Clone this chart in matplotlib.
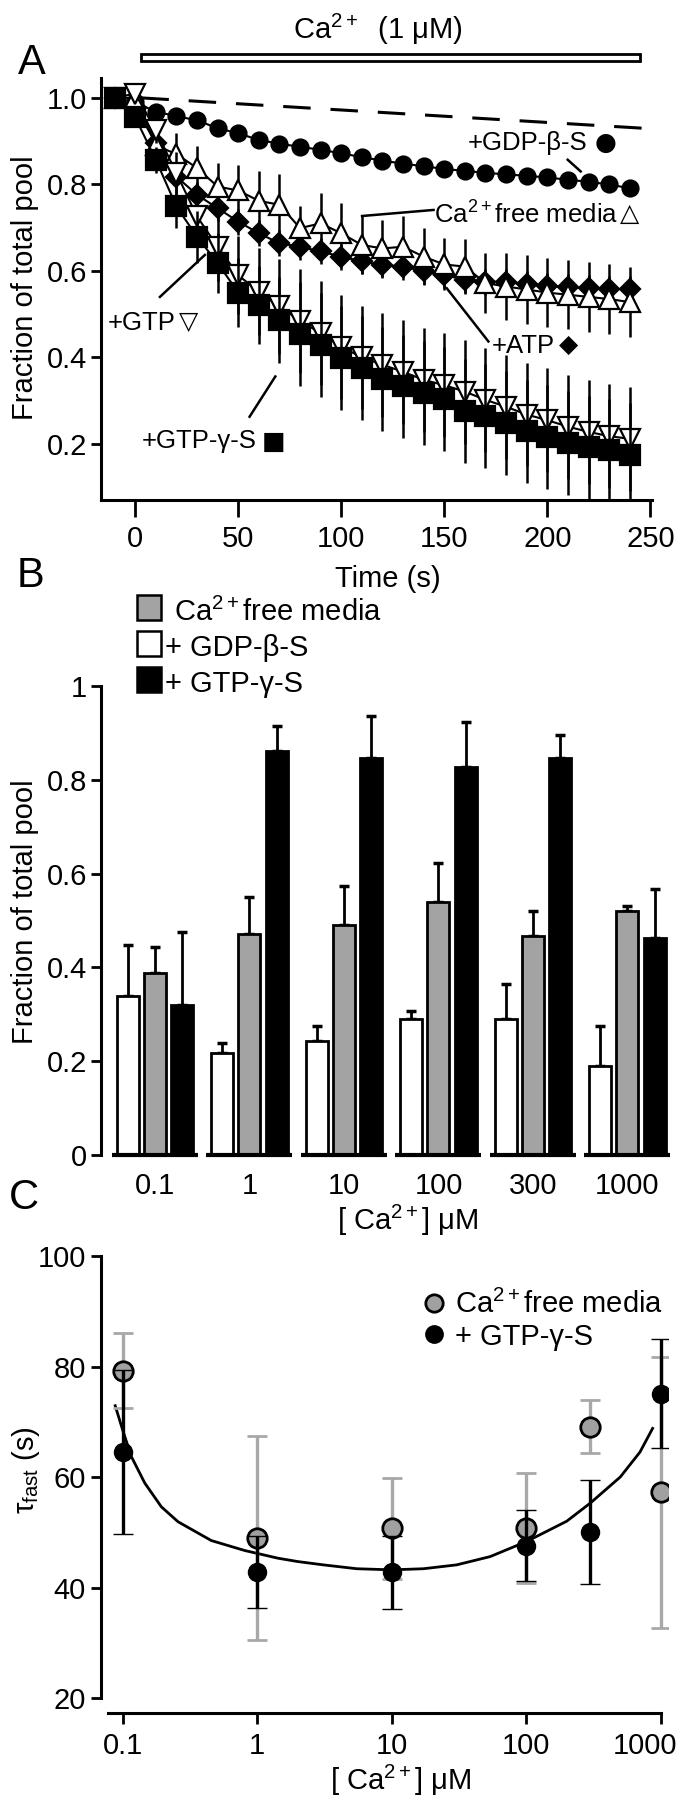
import matplotlib
matplotlib.use('Agg')
import matplotlib.pyplot as plt
from matplotlib.patches import Rectangle
from matplotlib.lines import Line2D
import matplotlib.transforms as mtransforms

plt.rcParams['font.family'] = ['Liberation Sans', 'DejaVu Sans']
plt.rcParams['mathtext.fontset'] = 'custom'
plt.rcParams['mathtext.rm'] = 'Liberation Sans'
plt.rcParams['mathtext.it'] = 'Liberation Sans:italic'
plt.rcParams['mathtext.bf'] = 'Liberation Sans:bold'

# ---------------- data: panel A ----------------
time_s = [-10, 0, 10, 20, 30, 40, 50, 60, 70, 80, 90, 100, 110, 120, 130,
          140, 150, 160, 170, 180, 190, 200, 210, 220, 230, 240]
gdp_bs = [1.0, 0.99, 0.968, 0.958, 0.948, 0.930, 0.918, 0.903, 0.894, 0.887,
          0.880, 0.872, 0.863, 0.855, 0.848, 0.842, 0.836, 0.831, 0.827,
          0.823, 0.820, 0.816, 0.811, 0.806, 0.800, 0.791]
gdp_bs_err = [0.005, 0.008, 0.012, 0.012, 0.014, 0.016, 0.016, 0.018, 0.016,
              0.016, 0.016, 0.016, 0.015, 0.015, 0.015, 0.015, 0.014, 0.014,
              0.014, 0.013, 0.013, 0.013, 0.013, 0.012, 0.012, 0.012]
ca_free = [1.0, 1.0, 0.89, 0.870, 0.838, 0.795, 0.786, 0.762, 0.753, 0.699,
           0.710, 0.687, 0.660, 0.652, 0.656, 0.633, 0.615, 0.610, 0.572,
           0.564, 0.557, 0.550, 0.545, 0.540, 0.535, 0.528]
ca_free_err = [0.01, 0.01, 0.04, 0.05, 0.05, 0.055, 0.06, 0.07, 0.07, 0.05,
               0.07, 0.07, 0.066, 0.066, 0.07, 0.066, 0.06, 0.063, 0.07,
               0.077, 0.08, 0.08, 0.08, 0.08, 0.08, 0.08]
atp = [1.0, 0.98, 0.895, 0.818, 0.776, 0.745, 0.714, 0.687, 0.664, 0.656,
       0.645, 0.633, 0.622, 0.614, 0.610, 0.599, 0.591, 0.579, 0.575, 0.575,
       0.570, 0.565, 0.562, 0.560, 0.558, 0.558]
atp_err = [0.01, 0.01, 0.02, 0.025, 0.03, 0.03, 0.03, 0.03, 0.03, 0.03,
           0.03, 0.03, 0.03, 0.03, 0.03, 0.03, 0.03, 0.03, 0.03, 0.03,
           0.03, 0.03, 0.03, 0.03, 0.03, 0.03]
gtp = [1.0, 1.01, 0.925, 0.826, 0.726, 0.656, 0.590, 0.552, 0.518, 0.485,
       0.456, 0.425, 0.400, 0.383, 0.367, 0.348, 0.336, 0.321, 0.302, 0.286,
       0.268, 0.255, 0.240, 0.228, 0.218, 0.212]
gtp_err = [0.01, 0.01, 0.03, 0.05, 0.07, 0.08, 0.09, 0.10, 0.11, 0.12,
           0.12, 0.12, 0.12, 0.12, 0.12, 0.12, 0.12, 0.12, 0.12, 0.12,
           0.12, 0.12, 0.12, 0.12, 0.12, 0.12]
gtp_gs = [1.0, 0.955, 0.857, 0.749, 0.679, 0.618, 0.550, 0.521, 0.487, 0.454,
          0.429, 0.398, 0.375, 0.350, 0.333, 0.317, 0.304, 0.276, 0.265,
          0.248, 0.229, 0.217, 0.202, 0.192, 0.185, 0.175]
gtp_gs_err = [0.01, 0.01, 0.03, 0.05, 0.06, 0.07, 0.08, 0.09, 0.10, 0.12,
              0.12, 0.12, 0.12, 0.12, 0.12, 0.12, 0.12, 0.12, 0.12, 0.12,
              0.12, 0.12, 0.12, 0.12, 0.12, 0.12]
control_line_t = [3, 246]
control_line_v = [1.0, 0.93]

# ---------------- data: panel B ----------------
ca_conc_labels = ['0.1', '1', '10', '100', '300', '1000']
bar_gdp_bs = [0.339, 0.218, 0.243, 0.291, 0.291, 0.189]
bar_gdp_bs_err = [0.108, 0.020, 0.033, 0.015, 0.074, 0.087]
bar_ca_free = [0.389, 0.472, 0.491, 0.539, 0.466, 0.520]
bar_ca_free_err = [0.054, 0.078, 0.082, 0.084, 0.055, 0.010]
bar_gtp_gs = [0.320, 0.862, 0.847, 0.828, 0.847, 0.462]
bar_gtp_gs_err = [0.155, 0.053, 0.088, 0.096, 0.048, 0.106]

# ---------------- data: panel C ----------------
conc_uM = [0.1, 1, 10, 100, 300, 1000]
tau_ca_free = [79.2, 49.0, 50.7, 50.8, 69.1, 57.2]
tau_ca_free_err = [6.8, 18.5, 9.2, 10.0, 4.8, 24.6]
tau_gtp_gs = [64.5, 42.8, 42.8, 47.6, 50.1, 75.1]
tau_gtp_gs_err = [14.9, 6.5, 6.6, 6.5, 9.4, 9.8]
fit_conc = [0.088, 0.1, 0.116, 0.146, 0.194, 0.258, 0.456, 0.807, 1.43, 2.0,
            3.1, 5.5, 10, 17.2, 30.4, 54, 76, 100, 200, 300, 500, 700, 870]
fit_tau = [72.9, 68.5, 63.7, 58.9, 54.6, 51.9, 48.5, 46.7, 45.3, 44.7,
           44.1, 43.4, 43.2, 43.4, 44.1, 45.6, 47.1, 48.3, 52.0, 55.3,
           60.0, 64.5, 68.8]

# ---------------- figure ----------------
W, H = 680, 1800
fig = plt.figure(figsize=(6.8, 18), dpi=100)


def fx(X):
    return X / W


def fy(Y):
    return 1 - Y / H


def axrect(left, top, right, bottom):
    return [fx(left), fy(bottom), (right - left) / W, (bottom - top) / H]


FS = 21
ANN = 18.5
LW = 2.2

# ================= Panel A =================
axA = fig.add_axes(axrect(101, 78, 652.4, 500))
axA.set_xlim(-16.6, 251)
axA.set_ylim(0.0705, 1.046)
for s in ['top', 'right']:
    axA.spines[s].set_visible(False)
for s in ['left', 'bottom']:
    axA.spines[s].set_linewidth(LW)
axA.set_xticks([0, 50, 100, 150, 200, 250])
axA.set_yticks([0.2, 0.4, 0.6, 0.8, 1.0])
axA.set_yticklabels(['0.2', '0.4', '0.6', '0.8', '1.0'])
axA.tick_params(axis='x', length=12, width=2, pad=6, labelsize=FS)
axA.tick_params(axis='y', length=7, width=2, pad=3, labelsize=FS)

axA.plot(control_line_t, control_line_v, color='k', lw=2.2,
         linestyle=(0, (9, 6.5)), zorder=1)


def series(t, v, e, marker, ms, mfc, z):
    axA.errorbar(t, v, yerr=e, fmt='none', ecolor='k', elinewidth=1.8,
                 capsize=0, zorder=z)
    axA.plot(t, v, '-', color='k', lw=1.5, marker=marker, ms=ms, mfc=mfc,
             mec='k', mew=1.6, zorder=z + 0.5, clip_on=False)


series(time_s, gdp_bs, gdp_bs_err, 'o', 11.5, 'k', 2)
series(time_s, atp, atp_err, 'D', 10, 'k', 3)
series(time_s, ca_free, ca_free_err, '^', 14, 'w', 4)
series(time_s, gtp, gtp_err, 'v', 14, 'w', 5)
series(time_s, gtp_gs, gtp_gs_err, 's', 14, 'k', 6)


def px_text(X, Y, s, **kw):
    fig.text(fx(X), fy(Y), s, **kw)


# annotations (text + key symbol)
px_text(468, 150, '+GDP-β-S', fontsize=ANN, ha='left', va='baseline')
px_text(606, 143, '●', fontsize=18, ha='center', va='center',
        family='DejaVu Sans')
axA.plot([209.9, 216.2], [0.857, 0.830], 'k-', lw=1.8)

px_text(433.6, 223.3, 'Ca$^{2+}$free media', fontsize=ANN, ha='left',
        va='baseline')
px_text(630, 214, '△', fontsize=18, ha='center', va='center',
        family='DejaVu Sans', fontweight='bold')
axA.plot([110.1, 144.8], [0.727, 0.741], 'k-', lw=1.8)

px_text(108, 330, '+GTP', fontsize=ANN, ha='left', va='baseline')
px_text(189, 322, '▽', fontsize=18, ha='center', va='center',
        family='DejaVu Sans', fontweight='bold')
axA.plot([12, 33.8], [0.540, 0.637], 'k-', lw=1.8)

px_text(492, 352.7, '+ATP', fontsize=ANN, ha='left', va='baseline')
px_text(569, 345, '◆', fontsize=18, ha='center', va='center',
        family='DejaVu Sans')
axA.plot([151.2, 171.4], [0.560, 0.437], 'k-', lw=1.8)

px_text(141.3, 448.3, '+GTP-γ-S', fontsize=ANN, ha='left', va='baseline')
px_text(274, 442, '■', fontsize=18, ha='center', va='center',
        family='DejaVu Sans')
axA.plot([55.5, 68], [0.263, 0.356], 'k-', lw=1.8)

# Ca2+ application bar
trans = mtransforms.blended_transform_factory(axA.transData, axA.transAxes)
axA.add_patch(Rectangle((2.8, 1.0403), 242.2, 0.0166, transform=trans,
                        fc='w', ec='k', lw=2, clip_on=False))
px_text(378, 39, 'Ca$^{2+}$  (1 μM)', fontsize=FS, ha='center', va='baseline')

px_text(388, 587, 'Time (s)', fontsize=FS, ha='center', va='baseline')
px_text(25, 288, 'Fraction of total pool', fontsize=FS, rotation=90,
        ha='center', va='center')

# ================= Panel B =================
axB = fig.add_axes(axrect(101, 686, 670, 1155))
axB.set_xlim(-0.571, 5.45)
axB.set_ylim(0, 1.0)
for s in ['top', 'right', 'bottom']:
    axB.spines[s].set_visible(False)
axB.spines['left'].set_linewidth(LW)
axB.set_yticks([0, 0.2, 0.4, 0.6, 0.8, 1.0])
axB.set_yticklabels(['0', '0.2', '0.4', '0.6', '0.8', '1'])
idx = list(range(len(ca_conc_labels)))
axB.set_xticks(idx)
axB.set_xticklabels(ca_conc_labels)
axB.tick_params(axis='x', length=0, pad=12, labelsize=FS)
axB.tick_params(axis='y', length=7, width=2, pad=3, labelsize=FS)

off = 0.29
bw = 0.233
GRAY = '#a3a3a3'
ekw = dict(elinewidth=2, capsize=3.5, capthick=2.5, ecolor='k')
for i in idx:
    axB.errorbar(i - off, bar_gdp_bs[i], yerr=[[0], [bar_gdp_bs_err[i]]],
                 fmt='none', zorder=1, **ekw)
    axB.errorbar(i, bar_ca_free[i], yerr=[[0], [bar_ca_free_err[i]]],
                 fmt='none', zorder=1, **ekw)
    axB.errorbar(i + off, bar_gtp_gs[i], yerr=[[0], [bar_gtp_gs_err[i]]],
                 fmt='none', zorder=1, **ekw)
axB.bar([i - off for i in idx], bar_gdp_bs, width=bw, color='w',
        edgecolor='k', lw=2, zorder=2)
axB.bar(idx, bar_ca_free, width=bw, color=GRAY, edgecolor='k', lw=2, zorder=2)
axB.bar([i + off for i in idx], bar_gtp_gs, width=bw, color='k',
        edgecolor='k', lw=2, zorder=2)
axB.hlines([0] * len(idx), [i - 0.455 for i in idx], [i + 0.455 for i in idx],
           colors='k', lw=3, zorder=3, clip_on=False)

# legend B (manual)
leg_rows = [(608, GRAY, 'Ca$^{2+}$free media', 173.5),
            (643.5, 'w', '+ GDP-β-S', 165),
            (679, 'k', '+ GTP-γ-S', 165)]
for yc, col, lab, xt in leg_rows:
    fig.add_artist(Rectangle((fx(137), fy(yc + 12.5)), 23.5 / W, 25 / H,
                             transform=fig.transFigure, fc=col, ec='k',
                             lw=1.8))
    px_text(xt, yc + 13, lab, fontsize=FS, ha='left', va='baseline')

px_text(408, 1230, '[ Ca$^{2+}$] μM', fontsize=FS, ha='center', va='baseline')
px_text(25, 912, 'Fraction of total pool', fontsize=FS, rotation=90,
        ha='center', va='center')

# ================= Panel C =================
axC = fig.add_axes(axrect(101, 1256, 668, 1713))
axC.set_xscale('log')
axC.set_xlim(0.069, 1132)
axC.set_ylim(17.29, 100)
for s in ['top', 'right']:
    axC.spines[s].set_visible(False)
for s in ['left', 'bottom']:
    axC.spines[s].set_linewidth(LW)
axC.spines['left'].set_bounds(20, 100)
axC.spines['bottom'].set_bounds(0.078, 1000)
axC.set_xticks([0.1, 1, 10, 100, 1000])
axC.set_xticklabels(['0.1', '1', '10', '100', '1000'])
axC.xaxis.set_minor_locator(matplotlib.ticker.NullLocator())
axC.set_yticks([20, 40, 60, 80, 100])
axC.tick_params(axis='x', length=8, width=2, pad=6, labelsize=FS)
axC.tick_params(axis='y', length=7, width=2, pad=4, labelsize=FS)
last_lab = axC.get_xticklabels()[-1]
last_lab.set_transform(last_lab.get_transform() +
                       mtransforms.ScaledTranslation(-0.16, 0,
                                                     fig.dpi_scale_trans))

axC.plot(fit_conc, fit_tau, 'k-', lw=2, zorder=1)
axC.errorbar(conc_uM, tau_ca_free, yerr=tau_ca_free_err, fmt='o', ms=14,
             mfc='#a0a0a0', mec='k', mew=2, ecolor='#a8a8a8', elinewidth=2.4,
             capsize=7, capthick=2.4, zorder=2)
axC.errorbar(conc_uM, tau_gtp_gs, yerr=tau_gtp_gs_err, fmt='o', ms=13,
             mfc='k', mec='k', mew=1, ecolor='k', elinewidth=2.4,
             capsize=7, capthick=2.4, zorder=3)

# legend C (manual)
fig.add_artist(Line2D([fx(433.6)], [fy(1303)], marker='o', ms=12.5,
                      mfc='#a0a0a0', mec='k', mew=2,
                      transform=fig.transFigure))
fig.add_artist(Line2D([fx(433.6)], [fy(1334)], marker='o', ms=12.5,
                      mfc='k', mec='k', transform=fig.transFigure))
px_text(455, 1313, 'Ca$^{2+}$free media', fontsize=FS, ha='left',
        va='baseline')
px_text(455, 1345, '+ GTP-γ-S', fontsize=FS, ha='left', va='baseline')

px_text(401, 1790, '[ Ca$^{2+}$] μM', fontsize=FS, ha='center', va='baseline')
px_text(26, 1470, 'τ$_{\\mathrm{fast}}$ (s)', fontsize=FS, rotation=90,
        ha='center', va='center')

# panel letters
px_text(32, 63, 'A', fontsize=30, ha='center', va='center')
px_text(30, 576, 'B', fontsize=30, ha='center', va='center')
px_text(24, 1198, 'C', fontsize=30, ha='center', va='center')

fig.savefig('out.png', dpi=100)
